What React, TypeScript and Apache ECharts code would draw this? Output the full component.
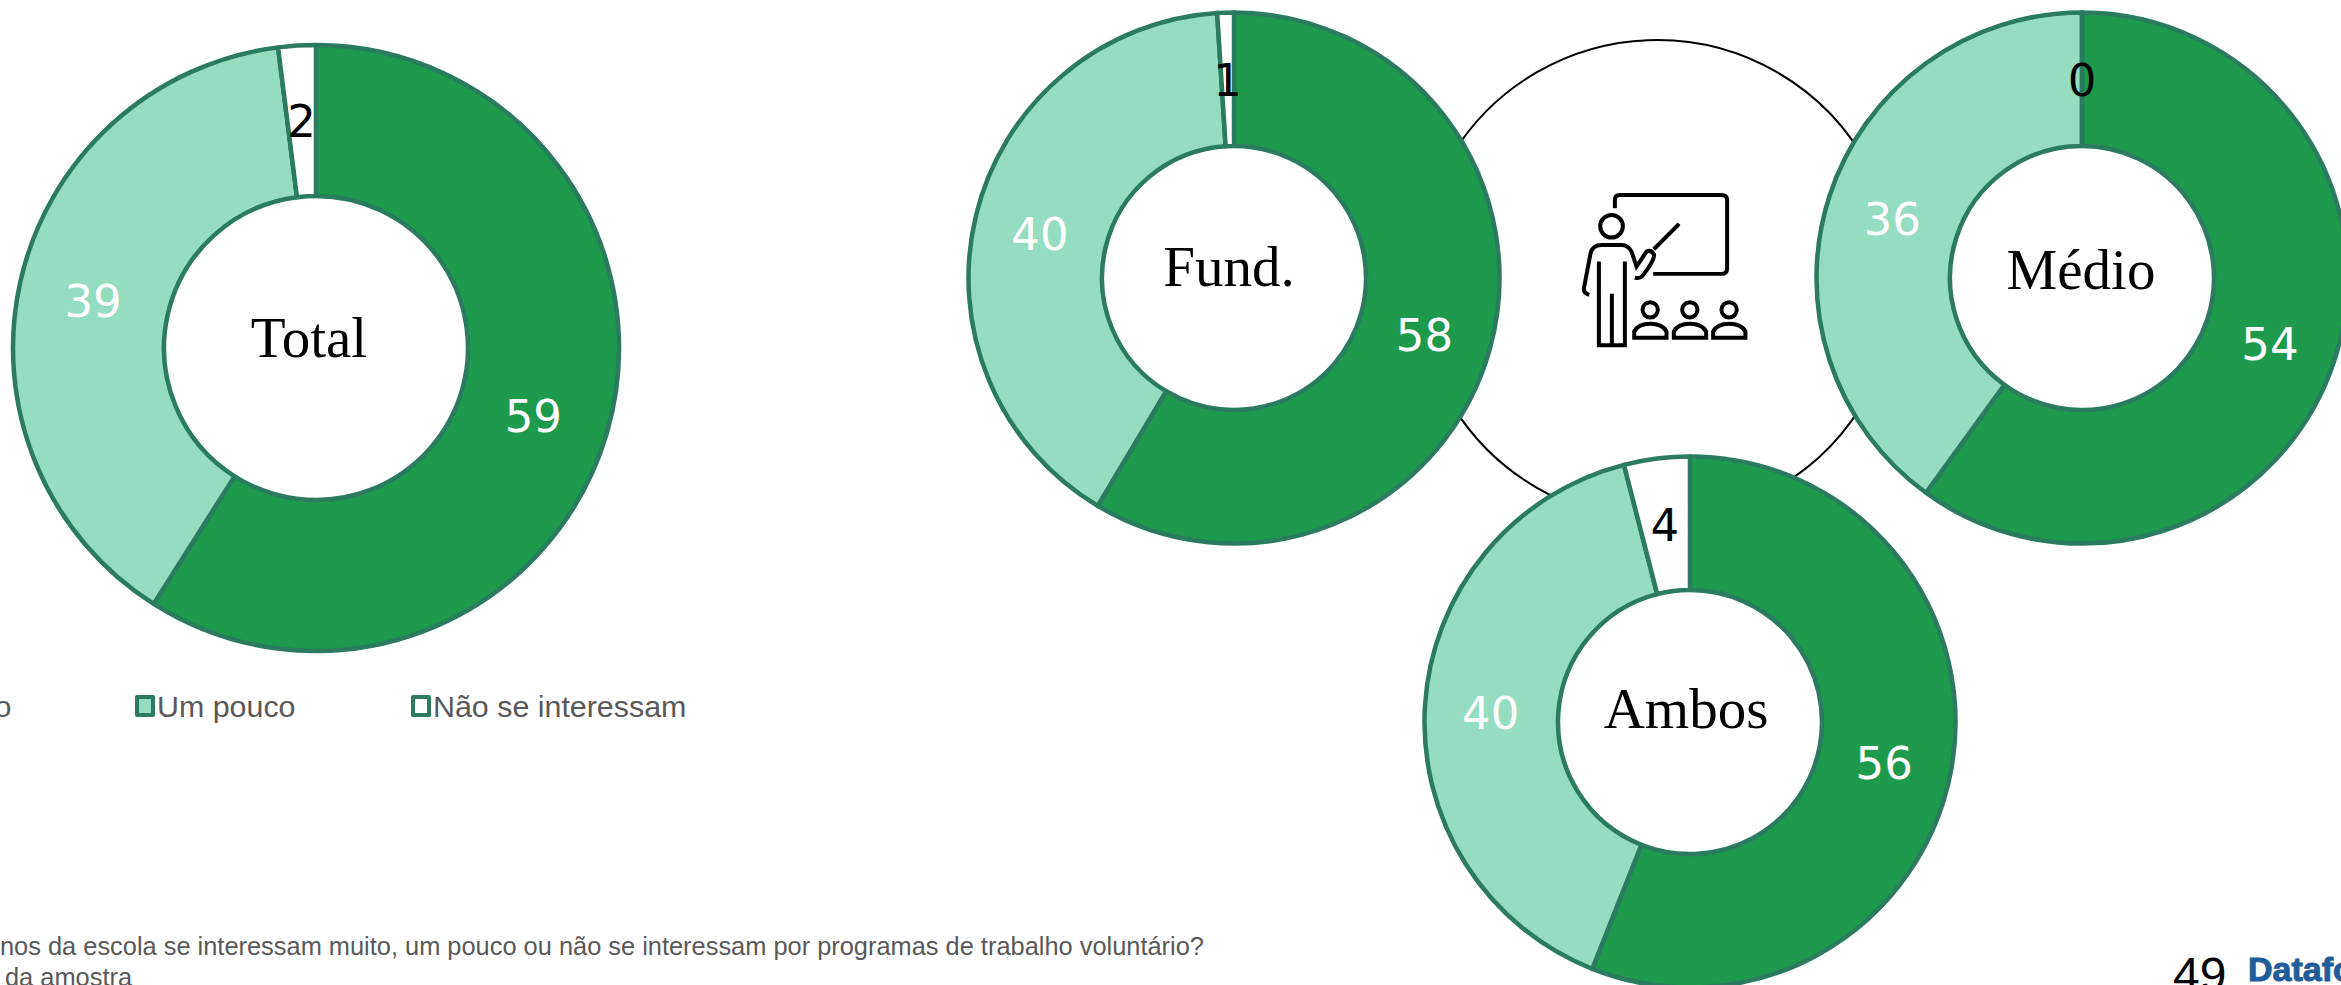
import React, { useEffect, useRef } from "react";
import * as echarts from "echarts";

const categories = ["Muito", "Um pouco", "Não se interessam"];
const totalValues = [59, 39, 2];
const fundValues = [58, 40, 1];
const medioValues = [54, 36, 0];
const ambosValues = [56, 40, 4];
const footnoteLines = [
  "nos da escola se interessam muito, um pouco ou não se interessam por programas de trabalho voluntário?",
  "da amostra",
];

const DARK = "#1E9A4D";
const LIGHT = "#95DDC1";
const EDGE = "#2A7B5F";
const fills = [DARK, LIGHT, "#FFFFFF"];
const labelColors = ["#FFFFFF", "#FFFFFF", "#000000"];

const ICON_D =
  "M345 175 V150 Q345 135 360 135 H665 Q682 135 682 150 V355 Q682 372 665 372 H460 " +
  "M538 222 L462 298 " +
  "M301 229 a34 34 0 1 0 68 0 a34 34 0 1 0 -68 0 " +
  "M268 435 Q250 430 252 415 L272 310 Q278 285 305 285 H365 Q385 285 395 305 L410 350 L440 305 Q455 298 463 315 Q462 330 445 355 L428 378 Q420 388 405 383 " +
  "M297 335 V586 H375 V335 M336 432 V586 " +
  "M428 480 a23 23 0 1 0 46 0 a23 23 0 1 0 -46 0 " +
  "M547 480 a23 23 0 1 0 46 0 a23 23 0 1 0 -46 0 " +
  "M665 480 a23 23 0 1 0 46 0 a23 23 0 1 0 -46 0 " +
  "M403 564 V545 Q415 522 451 522 Q488 522 500 545 V564 Z " +
  "M522 564 V545 Q534 522 570 522 Q607 522 619 545 V564 Z " +
  "M640 564 V545 Q652 522 688 522 Q725 522 737 545 V564 Z";

echarts.graphic.registerShape("teacherIcon", echarts.graphic.extendPath(ICON_D, {}));

function donut(values: number[], center: number[], radius: number[]) {
  return {
    type: "pie",
    center,
    radius,
    startAngle: 90,
    clockwise: true,
    silent: true,
    z: 5,
    labelLine: { show: false },
    labelLayout: (p: any) => ({ dx: p.dataIndex === 0 ? -4 : p.dataIndex === 1 ? 2 : 0, dy: 4 }),
    data: values.map((value, i) => ({
      name: categories[i],
      value,
      itemStyle: { color: fills[i], borderColor: EDGE, borderWidth: 4.5 },
      label: {
        show: true,
        position: "inside",
        formatter: "{c}",
        color: labelColors[i],
        fontFamily: "DejaVu Sans",
        fontSize: 45,
        fontWeight: "normal",
      },
    })),
  };
}

function legendAt(name: string, left: number) {
  return {
    data: [name],
    left,
    top: 691,
    orient: "horizontal",
    icon: "rect",
    itemWidth: 16,
    itemHeight: 18,
    itemGap: 0,
    padding: 0,
    selectedMode: false,
    itemStyle: { borderColor: EDGE, borderWidth: 4 },
    textStyle: { color: "#595959", fontFamily: "Liberation Sans", fontSize: 30.4, padding: [0, 0, 0, -1] },
  };
}

const centerText = (text: string, x: number, y: number) => ({
  type: "text",
  x,
  y,
  z: 20,
  style: {
    text,
    fill: "#000000",
    font: "57px 'Liberation Serif'",
    textAlign: "center",
    textVerticalAlign: "middle",
  },
});

export default function App() {
  const ref = useRef<HTMLDivElement>(null);
  useEffect(() => {
    document.body.style.margin = "0";
    document.body.style.overflow = "hidden";
    const chart = echarts.init(ref.current!, undefined, { renderer: "svg" });
    chart.setOption({
      animation: false,
      backgroundColor: "#FFFFFF",
      legend: [legendAt(categories[0], -85), legendAt(categories[1], 135), legendAt(categories[2], 411)],
      series: [
        donut(totalValues, [316, 348], [152, 303]),
        donut(fundValues, [1234, 278], [132, 265.5]),
        donut(medioValues, [2082, 278], [132, 265.5]),
        donut(ambosValues, [1690, 722], [132, 265.5]),
      ],
      graphic: [
        {
          type: "circle",
          z: 0,
          shape: { cx: 1657, cy: 280, r: 240 },
          style: { fill: "#FFFFFF", stroke: "#000000", lineWidth: 2 },
        },
        {
          type: "teacherIcon",
          x: 1500,
          y: 150,
          scaleX: 1 / 3,
          scaleY: 1 / 3,
          z: 1,
          style: { fill: "none", stroke: "#000000", lineWidth: 12 },
        },
        centerText("Total", 309, 337),
        centerText("Fund.", 1229, 266),
        centerText("Médio", 2081, 269),
        centerText("Ambos", 1686, 708),
        {
          type: "text",
          x: 0,
          y: 933,
          z: 20,
          style: { text: footnoteLines[0], fill: "#595959", font: "25.4px 'Liberation Sans'" },
        },
        {
          type: "text",
          x: 5,
          y: 964,
          z: 20,
          style: { text: footnoteLines[1], fill: "#595959", font: "25.4px 'Liberation Sans'" },
        },
        {
          type: "text",
          x: 2173,
          y: 950,
          z: 20,
          style: { text: "49", fill: "#000000", font: "48px 'Liberation Sans'" },
        },
        {
          type: "text",
          x: 2248,
          y: 952,
          z: 20,
          style: { text: "Datafolha", fill: "#1F5C99", stroke: "#1F5C99", lineWidth: 1, font: "bold 34px 'Liberation Sans'" },
        },
      ],
    });
    return () => chart.dispose();
  }, []);
  return <div ref={ref} style={{ position: "absolute", left: 0, top: 0, width: 2341, height: 985 }} />;
}
